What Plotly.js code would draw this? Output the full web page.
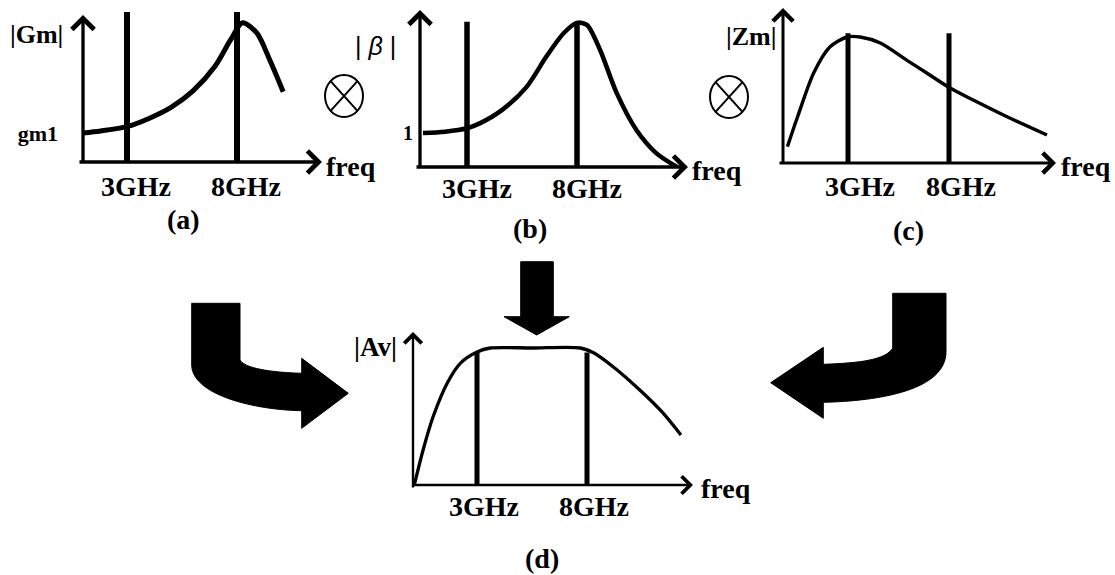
<!DOCTYPE html>
<html>
<head>
<meta charset="utf-8">
<script src="https://cdn.plot.ly/plotly-3.0.1.min.js"></script>
<style>
  html, body { margin: 0; padding: 0; background: #fff; }
  #chart { width: 1115px; height: 575px; }
</style>
</head>
<body>
<div id="chart"></div>
<script>
const W = 1115, H = 575;

// (a) |Gm| versus frequency, in units of gm1
const gmFreq = [1, 1.8, 3, 4, 5, 6, 7, 7.7, 8.25, 8.9, 9.5, 10.1];
const gmMag  = [1, 1.07, 1.22, 1.5, 1.88, 2.45, 3.3, 4.2, 4.8, 4.45, 3.5, 2.42];

// (b) |beta| versus frequency, normalised to 1 at low frequency
const betaFreq = [1, 2, 3, 3.6, 4.6, 5.7, 6.6, 7.4, 8.0, 8.45, 9.05, 9.8, 10.7, 11.6, 12.55];
const betaMag  = [1, 1.04, 1.14, 1.29, 1.68, 2.35, 3.24, 3.94, 4.24, 4.18, 3.44, 2.18, 1.09, 0.41, 0];

// (c) |Zm| versus frequency, normalised to its peak
const zmFreq = [0, 0.5, 1.3, 2.1, 2.95, 3.6, 4.6, 5.9, 6.9, 8.05, 9.2, 10.9, 12.85];
const zmMag  = [0.13, 0.365, 0.714, 0.921, 1.0, 1.0, 0.952, 0.817, 0.714, 0.595, 0.5, 0.365, 0.222];

// (d) |Av| = |Gm| x |beta| x |Zm|, normalised to the flat band
const avFreq = [0.15, 0.55, 1.0, 1.65, 2.25, 3.0, 3.6, 5.5, 7.7, 8.3, 9.2, 10.4, 11.45, 12.27];
const avMag  = [0, 0.255, 0.496, 0.745, 0.89, 0.971, 1.0, 1.0, 1.0, 0.965, 0.861, 0.693, 0.526, 0.365];

// band edges marked on every plot
const markerFreqs  = [3, 8];
const markerLabels = ['3GHz', '8GHz'];
const gmMarkerTop   = [5.17, 5.17];
const betaMarkerTop = [4.27, 4.27];
const zmMarkerTop   = [1.03, 1.03];
const avMarkerTop   = [0.971, 0.968];

const SERIF = 'Liberation Serif, Times New Roman, serif';
const INK = '#000';

// geometry of each small plot, in page pixels
const panels = [
  { xa: 'x',  ya: 'y',  ox: 83,  oy: 162, x3: 127, x8: 237, unitPx: 29,  tipX: 322,  tipY: 15,
    box: [70, 335, 4, 163], freq: gmFreq, mag: gmMag, top: gmMarkerTop,
    curveW: 5, markW: 6, axisW: 3.3, head: 1.3, tailX: 5, tailY: 1, shift: 9, standoff: 4,
    yTick: { vals: [1], text: ['gm1'], size: 22, standoff: 11 } },
  { xa: 'x2', ya: 'y2', ox: 420, oy: 167, x3: 467, x8: 577, unitPx: 34,  tipX: 688,  tipY: 10,
    box: [414, 700, 3, 168], freq: betaFreq, mag: betaMag, top: betaMarkerTop,
    curveW: 4.5, markW: 5.5, axisW: 3.3, head: 1.3, tailX: 5, tailY: 1, shift: 10, standoff: 1,
    yTick: { vals: [1], text: ['1'], size: 20, standoff: 0 } },
  { xa: 'x3', ya: 'y3', ox: 783, oy: 163, x3: 848, x8: 949, unitPx: 126, tipX: 1056, tipY: 8,
    box: [770, 1068, 2, 164], freq: zmFreq, mag: zmMag, top: zmMarkerTop,
    curveW: 3.4, markW: 5, axisW: 3, head: 1.3, tailX: 5, tailY: 1, shift: 12, standoff: 3, yTick: null },
  { xa: 'x4', ya: 'y4', ox: 413, oy: 485, x3: 477, x8: 587, unitPx: 137, tipX: 693,  tipY: 332,
    box: [400, 705, 322, 486], freq: avFreq, mag: avMag, top: avMarkerTop,
    curveW: 3.3, markW: 5, axisW: 2.4, head: 1.4, tailX: 1, tailY: 4, shift: 7, standoff: 1, yTick: null }
];

const traces = [];
const layout = {
  width: W, height: H,
  margin: { l: 0, r: 0, t: 0, b: 0 },
  paper_bgcolor: '#fff', plot_bgcolor: 'rgba(0,0,0,0)',
  showlegend: false, hovermode: false,
  annotations: [], shapes: []
};

function axisArrow(xref, yref, x, y, ax, ay, width, size) {
  return { xref, yref, axref: xref, ayref: yref, x, y, ax, ay, text: '',
           showarrow: true, arrowhead: 4, arrowwidth: width, arrowsize: size,
           arrowcolor: INK, standoff: 0, startstandoff: 0 };
}

panels.forEach((p, i) => {
  const sx = (p.x8 - p.x3) / 5;
  const fAt = px => 3 + (px - p.x3) / sx;
  const yAt = py => (p.oy - py) / p.unitPx;
  const [bl, br, bt, bb] = p.box;
  const n = i === 0 ? '' : String(i + 1);

  layout['xaxis' + n] = {
    domain: [bl / W, br / W], range: [fAt(bl), fAt(br)], anchor: p.ya,
    showgrid: false, zeroline: false, showline: false, ticks: '',
    tickmode: 'array', tickvals: markerFreqs, ticktext: markerLabels,
    tickfont: { family: SERIF, size: 28, weight: 'bold', color: INK },
    ticklabelshift: p.shift, ticklabelstandoff: p.standoff, fixedrange: true
  };
  layout['yaxis' + n] = {
    domain: [1 - bb / H, 1 - bt / H], range: [yAt(bb), yAt(bt)], anchor: p.xa,
    showgrid: false, zeroline: false, showline: false, ticks: '',
    showticklabels: !!p.yTick, fixedrange: true,
    tickmode: 'array', tickvals: p.yTick ? p.yTick.vals : [],
    ticktext: p.yTick ? p.yTick.text : [],
    tickfont: { family: SERIF, size: p.yTick ? p.yTick.size : 12, weight: 'bold', color: INK },
    ticklabelstandoff: p.yTick ? p.yTick.standoff : 0
  };

  // band-edge markers
  const mx = [], my = [];
  markerFreqs.forEach((f, k) => { mx.push(f, f, null); my.push(0, p.top[k], null); });
  traces.push({ type: 'scatter', mode: 'lines', xaxis: p.xa, yaxis: p.ya, x: mx, y: my,
                line: { color: INK, width: p.markW } });
  // response curve
  traces.push({ type: 'scatter', mode: 'lines', xaxis: p.xa, yaxis: p.ya, x: p.freq, y: p.mag,
                line: { color: INK, width: p.curveW, shape: 'spline', smoothing: 0.8 } });

  // arrowed axes
  layout.annotations.push(axisArrow(p.xa, p.ya, fAt(p.tipX), 0, fAt(p.ox - p.tailX), 0, p.axisW, p.head));
  layout.annotations.push(axisArrow(p.xa, p.ya, fAt(p.ox), yAt(p.tipY), fAt(p.ox), yAt(p.oy + p.tailY), p.axisW, p.head));
});

// full-page overlay in pixel units for the operators, arrows and captions
layout.xaxis5 = { domain: [0, 1], range: [0, W], anchor: 'y5', showgrid: false, zeroline: false,
                  showline: false, showticklabels: false, ticks: '', fixedrange: true };
layout.yaxis5 = { domain: [0, 1], range: [H, 0], anchor: 'x5', showgrid: false, zeroline: false,
                  showline: false, showticklabels: false, ticks: '', fixedrange: true };
traces.push({ type: 'scatter', mode: 'none', xaxis: 'x5', yaxis: 'y5', x: [], y: [] });

function label(text, x, y, size, opts) {
  return Object.assign({ xref: 'x5', yref: 'y5', x, y, text, showarrow: false,
    xanchor: 'center', yanchor: 'middle',
    font: { family: SERIF, size, weight: 'bold', color: INK } }, opts || {});
}

layout.annotations.push(
  label('|Gm|', 36, 34, 26),
  label('| <i>β</i> |', 375, 46, 25, { font: { family: 'Liberation Sans, Arial, sans-serif', size: 25, color: INK } }),
  label('|Zm|', 751, 36, 26),
  label('|Av|', 375, 347, 27),
  label('freq', 324, 166, 28, { xanchor: 'left' }),
  label('freq', 690, 170, 28, { xanchor: 'left' }),
  label('freq', 1059, 166, 28, { xanchor: 'left' }),
  label('freq', 699, 488, 28, { xanchor: 'left' }),
  label('(a)', 183, 219, 28),
  label('(b)', 530, 228, 28),
  label('(c)', 908, 230, 28),
  label('(d)', 542, 558, 28)
);

// multiplication operators
function otimes(cx, cy, rx, ry) {
  const dx = rx * Math.SQRT1_2, dy = ry * Math.SQRT1_2;
  const st = { xref: 'x5', yref: 'y5', line: { color: INK, width: 2 } };
  return [
    Object.assign({ type: 'circle', x0: cx - rx, x1: cx + rx, y0: cy - ry, y1: cy + ry }, st),
    Object.assign({ type: 'line', x0: cx - dx, x1: cx + dx, y0: cy - dy, y1: cy + dy }, st),
    Object.assign({ type: 'line', x0: cx - dx, x1: cx + dx, y0: cy + dy, y1: cy - dy }, st)
  ];
}
layout.shapes.push(...otimes(344, 96, 19, 21), ...otimes(729, 97, 19, 21));

// block arrows feeding the product plot
const solid = { xref: 'x5', yref: 'y5', type: 'path', fillcolor: INK, line: { color: INK, width: 1 } };
layout.shapes.push(
  Object.assign({ path: 'M191.7,303.3 L240,303.3 L240,360 C243,366 260,372 301.7,373.3 L301.7,358.3 ' +
                        'L348.3,393.3 L301.7,428.3 L301.7,410.7 C255,410 192,395 191.7,365 Z' }, solid),
  Object.assign({ path: 'M892.7,293.3 L946,293.3 L946,351.7 C946,390 880,401 823.3,402.3 L823.3,418.3 ' +
                        'L770.7,382.7 L823.3,347.3 L823.3,364.3 C860,363 885,360 892.7,348.3 Z' }, solid),
  Object.assign({ path: 'M520.7,261.7 L553.3,261.7 L553.3,316.7 L569.3,316.7 L536.7,335 L504,316.7 L520.7,316.7 Z' }, solid)
);

Plotly.newPlot('chart', traces, layout, { staticPlot: true, displayModeBar: false });
</script>
</body>
</html>
